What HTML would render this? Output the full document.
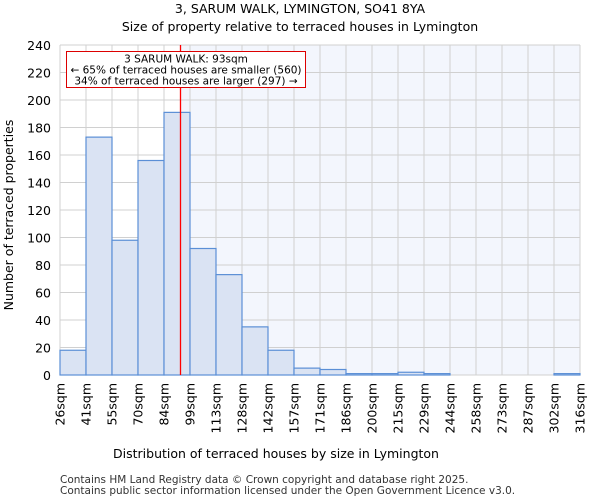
<!DOCTYPE html>
<html><head><meta charset="utf-8"><style>
body{margin:0;background:#fff;font-family:"DejaVu Sans","Liberation Sans",sans-serif}
</style></head><body>
<svg width="600" height="500" xmlns="http://www.w3.org/2000/svg" font-family="DejaVu Sans, Liberation Sans, sans-serif">
<text x="300" y="13" text-anchor="middle" font-size="12.5">3, SARUM WALK, LYMINGTON, SO41 8YA</text>
<text x="300" y="31" text-anchor="middle" font-size="12.5">Size of property relative to terraced houses in Lymington</text>
<g id="plot"></g>
<text x="276" y="458" text-anchor="middle" font-size="12.5">Distribution of terraced houses by size in Lymington</text>
<text transform="translate(13,215) rotate(-90)" text-anchor="middle" font-size="12.5">Number of terraced properties</text>
<text x="60" y="483" font-size="10.5" fill="#333">Contains HM Land Registry data © Crown copyright and database right 2025.</text>
<text x="60" y="494" font-size="10.5" fill="#333">Contains public sector information licensed under the Open Government Licence v3.0.</text>
</svg>
<script>
const binLabels=["26sqm","41sqm","55sqm","70sqm","84sqm","99sqm","113sqm","128sqm","142sqm","157sqm","171sqm","186sqm","200sqm","215sqm","229sqm","244sqm","258sqm","273sqm","287sqm","302sqm","316sqm"];
const binEdges=[26,41,55,70,84,99,113,128,142,157,171,186,200,215,229,244,258,273,287,302,316];
const counts=[18,173,98,156,191,92,73,35,18,5,4,1,1,2,1,0,0,0,0,1];
const yTicks=[0,20,40,60,80,100,120,140,160,180,200,220,240];
const propertySize=93;
const L=60,R=580,T=45,B=375,yMax=240;
const ns="http://www.w3.org/2000/svg";
const g=document.getElementById("plot");
const nb=counts.length;
function xIdx(i){return L+(R-L)*i/nb;}
function xVal(v){let i=0;while(i<nb-1&&binEdges[i+1]<v)i++;return xIdx(i)+(v-binEdges[i])/(binEdges[i+1]-binEdges[i])*(R-L)/nb;}
function y(v){return B-(B-T)*v/yMax;}
function mk(t,a){const e=document.createElementNS(ns,t);for(const k in a)e.setAttribute(k,a[k]);g.appendChild(e);return e;}
const px=Math.round(xVal(propertySize))+0.5;
let e=mk("rect",{x:px,y:T,width:R-px,height:B-T,fill:"#f3f6fd"});


for(const t of yTicks){
 e=mk("line",{x1:L,x2:R,y1:y(t),y2:y(t),stroke:"#d0d0d0","stroke-width":1});
 
 
 e=mk("text",{x:L-9,y:y(t)+5,"text-anchor":"end","font-size":12.5});
 e.textContent=t;
 
 
}
for(let i=0;i<=nb;i++){
 e=mk("line",{x1:xIdx(i),x2:xIdx(i),y1:T,y2:B,stroke:"#d0d0d0","stroke-width":1});
 
 
 e=mk("text",{transform:`translate(${xIdx(i)+4.5},383) rotate(-90)`,"text-anchor":"end","font-size":12.5});
 e.textContent=binLabels[i];
 
 
}
for(let i=0;i<nb;i++){
 if(counts[i]<=0)continue;
 e=mk("rect",{x:xIdx(i),y:y(counts[i]),width:(R-L)/nb,height:B-y(counts[i]),fill:"#dae3f3",stroke:"#5b8fd6","stroke-width":1.2});
 
 
}
e=mk("line",{x1:px,x2:px,y1:T,y2:B,stroke:"#ff0000","stroke-width":1.3});


e=mk("rect",{x:66.5,y:51.5,width:239,height:36,fill:"#fff",stroke:"#dd0000","stroke-width":1});


const lines=["3 SARUM WALK: 93sqm","← 65% of terraced houses are smaller (560)","34% of terraced houses are larger (297) →"];
lines.forEach((s,k)=>{
 e=mk("text",{x:186,y:62.5+k*11,"text-anchor":"middle","font-size":10.5});
 e.textContent=s;
 
 
});
</script>
</body></html>
